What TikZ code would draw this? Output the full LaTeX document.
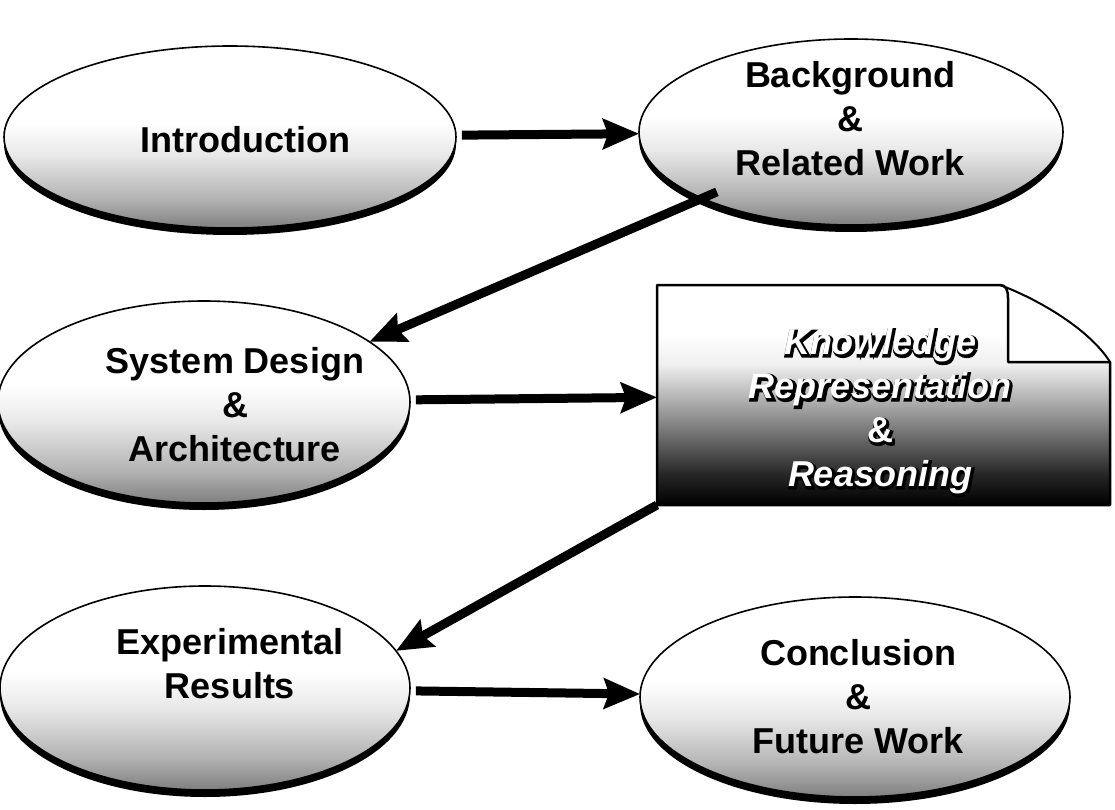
\documentclass[tikz,border=0pt]{standalone}
\usepackage{fontspec}
\setmainfont{Liberation Sans}
\usetikzlibrary{shapes.geometric,arrows.meta,shadows}

% grey speckle towards the bottom of each oval
\pgfdeclareverticalshading{ovalfill}{100bp}{color(0bp)=(black!50); color(25bp)=(black!50); color(33bp)=(black!30); color(45bp)=(black!9); color(54bp)=(white); color(100bp)=(white)}
% the page shape darkens to black at its foot
\pgfdeclareverticalshading{pagefill}{100bp}{color(0bp)=(black); color(25bp)=(black); color(32bp)=(black!85); color(46bp)=(black!40); color(57bp)=(black!6); color(64bp)=(white); color(100bp)=(white)}

% white lettering on a thick black rim with a small drop shadow
\newcommand\rimtext[1]{\leavevmode
  \rlap{\special{pdf:literal direct 2 Tr 3.4 w}\kern1.4pt\raisebox{-1.4pt}{#1}\special{pdf:literal direct 0 Tr}}%
  {\color{white}#1}}

\begin{document}
\begin{tikzpicture}[x=1pt,y=-1pt,
  oval/.style={ellipse, draw=black, line width=1.6pt, shade, shading=ovalfill,
    inner sep=0pt, outer sep=0pt,
    drop shadow={shadow xshift=0pt, shadow yshift=-7pt, fill=black, opacity=1}},
  ovaltext/.style={font=\fontsize{36}{44}\selectfont\bfseries, align=center, inner sep=0pt},
  flow/.style={line width=9pt, -{Stealth[length=36pt,width=30pt,inset=5pt]}},
]
\useasboundingbox (0,0) rectangle (1115,810);

% chapter ovals
\node[oval, minimum width=452pt, minimum height=182pt] (intro) at (230,137) {};
\node[oval, minimum width=424pt, minimum height=186pt] (bg)    at (851,132) {};
\node[oval, minimum width=412pt, minimum height=202pt] (sys)   at (204,402) {};
\node[oval, minimum width=410pt, minimum height=204pt] (exp)   at (205,688) {};
\node[oval, minimum width=430pt, minimum height=200pt] (conc)  at (855,697) {};

% page with a folded corner
\node[minimum width=453pt, minimum height=220pt, inner sep=0pt, outer sep=0pt] (kr) at (883.5,395) {};
\path[shade, shading=pagefill, draw=black, line width=2.5pt, line join=round]
  (kr.north west) -- (1000,285) .. controls (1006,285) and (1008,290) .. (1008,298)
  -- (1008,362) -- (1110,362) -- (kr.south east) -- (kr.south west) -- cycle;
\draw[line width=2pt] (1000,285) .. controls (1040,300) and (1090,330) .. (1110,362);

% texts
\node[ovaltext] (introtxt) at (245,140) {Introduction};
\node[ovaltext] (bgtxt)    at (850,119) {Background\\\&\\Related Work};
\node[ovaltext] (systxt)   at (235,405) {System Design\\\&\\Architecture};
\node[ovaltext] (exptxt)   at (230,664) {Experimental\\Results};
\node[ovaltext] (conctxt)  at (858,697) {Conclusion\\\&\\Future Work};
\node[ovaltext] (krtxt)    at (880,412)
  {\itshape\rimtext{Knowledge}\\\itshape\rimtext{Representation}\\\rimtext{\&}\\\itshape\rimtext{Reasoning}};

% reading order
\draw[flow, shorten <=-16pt] (bg.204) -- (sys.20);
\draw[flow, shorten <=6pt] (intro) -- (bg);
\draw[flow, shorten <=6pt] (sys) -- (kr);
\draw[flow] (kr.south west) -- (exp.11);
\draw[flow, shorten <=6pt] (exp) -- (conc);
\end{tikzpicture}
\end{document}
